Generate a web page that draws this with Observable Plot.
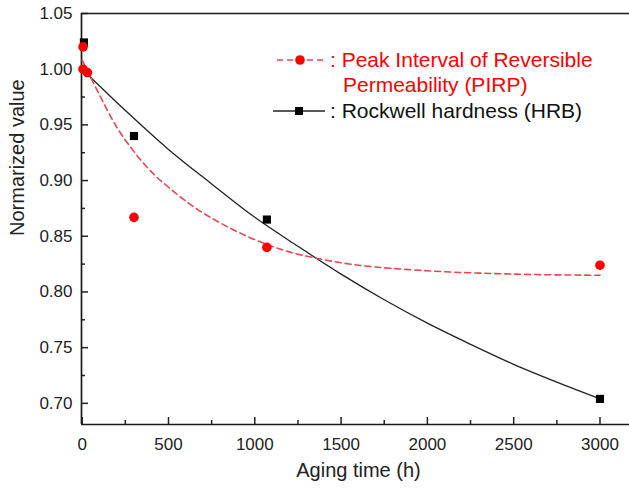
<!DOCTYPE html>
<html><head><meta charset="utf-8">
<script src="https://cdn.jsdelivr.net/npm/d3@7"></script>
<script src="https://cdn.jsdelivr.net/npm/@observablehq/plot@0.6"></script>
<style>
html,body{margin:0;padding:0;background:#fff;}
#chart{position:relative;width:629px;height:488px;}
</style></head><body><div id="chart"></div>
<script>
// ---- data ----
const pirpHours  = [5, 5, 30, 300, 1070, 3000];
const pirpValues = [1.020, 1.000, 0.997, 0.867, 0.840, 0.824];
const hrbHours   = [10, 300, 1070, 3000];
const hrbValues  = [1.024, 0.940, 0.865, 0.704];
const pirpFitHours  = [0, 100, 200, 300, 400, 500, 650, 800, 1000, 1200, 1400, 1600, 2000, 2500, 3000];
const pirpFitValues = [1.008, 0.977, 0.948, 0.926, 0.908, 0.894, 0.876, 0.862, 0.847, 0.836, 0.829, 0.824, 0.819, 0.816, 0.815];
const hrbFitHours  = [0, 250, 500, 750, 1000, 1250, 1500, 1750, 2000, 2250, 2500, 2750, 3000];
const hrbFitValues = [1.000, 0.963, 0.928, 0.897, 0.867, 0.841, 0.816, 0.793, 0.772, 0.753, 0.735, 0.719, 0.704];
const xTicks      = [0, 500, 1000, 1500, 2000, 2500, 3000];
const xMinorTicks = [250, 750, 1250, 1750, 2250, 2750];
const yTicks      = [0.70, 0.75, 0.80, 0.85, 0.90, 0.95, 1.00, 1.05];
const yMinorTicks = [0.725, 0.775, 0.825, 0.875, 0.925, 0.975, 1.025];
const xDomain = [-4, 3171];
const yDomain = [0.681, 1.05];
const xLabel = "Aging time (h)";
const yLabel = "Normarized value";
const legendPirp = [": Peak Interval of Reversible", "Permeability (PIRP)"];
const legendHrb  = ": Rockwell hardness (HRB)";

const zip = (xs, ys) => xs.map((x, i) => ({x, y: ys[i]}));
const pirp = zip(pirpHours, pirpValues);
const hrb = zip(hrbHours, hrbValues);
const pirpFit = zip(pirpFitHours, pirpFitValues);
const hrbFit = zip(hrbFitHours, hrbFitValues);

const font = "'Liberation Sans', Arial, Helvetica, sans-serif";
const RED = "#ff0000", DASH = "#e8474f", INK = "#1a1a1a";

const plot = Plot.plot({
  width: 629, height: 488,
  marginLeft: 81, marginRight: 0, marginTop: 13, marginBottom: 64,
  style: {fontFamily: font, fontSize: "17px", background: "#fff", color: "#222"},
  x: {domain: xDomain},
  y: {domain: yDomain},
  marks: [
    Plot.axisX({ticks: xTicks, tickSize: -7, tickPadding: 20, strokeWidth: 1.5, tickFormat: d3.format("d"), label: null}),
    Plot.axisX({ticks: xMinorTicks, tickSize: -4, strokeWidth: 1.5, tickFormat: () => "", label: null}),
    Plot.axisY({ticks: yTicks, tickSize: -7, tickPadding: 16, strokeWidth: 1.5, tickFormat: d3.format(".2f"), label: null}),
    Plot.axisY({ticks: yMinorTicks, tickSize: -4, strokeWidth: 1.5, tickFormat: () => "", label: null}),
    Plot.ruleX([xDomain[0]], {stroke: INK, strokeWidth: 1.7}),
    Plot.ruleY([yDomain[0]], {stroke: INK, strokeWidth: 1.7}),
    Plot.ruleY([yDomain[1]], {stroke: INK, strokeWidth: 1.7}),
    Plot.line(hrbFit, {x: "x", y: "y", curve: "catmull-rom", stroke: "#222", strokeWidth: 1.3}),
    Plot.line(pirpFit, {x: "x", y: "y", curve: "catmull-rom", stroke: DASH, strokeWidth: 1.6, strokeDasharray: "6,4"}),
    Plot.dot(hrb, {x: "x", y: "y", symbol: "square", r: 4.6, fill: "#000", stroke: "none"}),
    Plot.dot(pirp, {x: "x", y: "y", r: 4.8, fill: RED, stroke: "none"}),
    Plot.text([xLabel], {frameAnchor: "bottom", dy: 46, dx: 3, lineAnchor: "middle", fontSize: 20, fill: "#222"}),
    Plot.text([yLabel], {frameAnchor: "left", rotate: -90, dx: -64, dy: 17, lineAnchor: "middle", fontSize: 20, fill: "#222"})
  ]
});

// legend drawn into the plot's own SVG
const svg = d3.select(plot);
const lg = svg.append("g").attr("font-family", font).attr("font-size", 21).attr("text-anchor", "start");
// PIRP entry
lg.append("line").attr("x1", 277).attr("x2", 325).attr("y1", 60).attr("y2", 60)
  .attr("stroke", DASH).attr("stroke-width", 1.6).attr("stroke-dasharray", "6,4");
lg.append("circle").attr("cx", 300).attr("cy", 60).attr("r", 4.8).attr("fill", RED);
lg.append("text").attr("x", 330).attr("y", 60).attr("dy", "0.35em").attr("fill", RED).text(legendPirp[0]);
lg.append("text").attr("x", 343).attr("y", 85).attr("dy", "0.35em").attr("fill", RED).text(legendPirp[1]);
// HRB entry
lg.append("line").attr("x1", 273).attr("x2", 325).attr("y1", 111).attr("y2", 111)
  .attr("stroke", "#222").attr("stroke-width", 1.3);
lg.append("rect").attr("x", 295).attr("y", 107).attr("width", 8).attr("height", 8).attr("fill", "#000");
lg.append("text").attr("x", 330).attr("y", 111).attr("dy", "0.35em").attr("fill", "#111").text(legendHrb);

document.getElementById("chart").appendChild(plot);
</script></body></html>
